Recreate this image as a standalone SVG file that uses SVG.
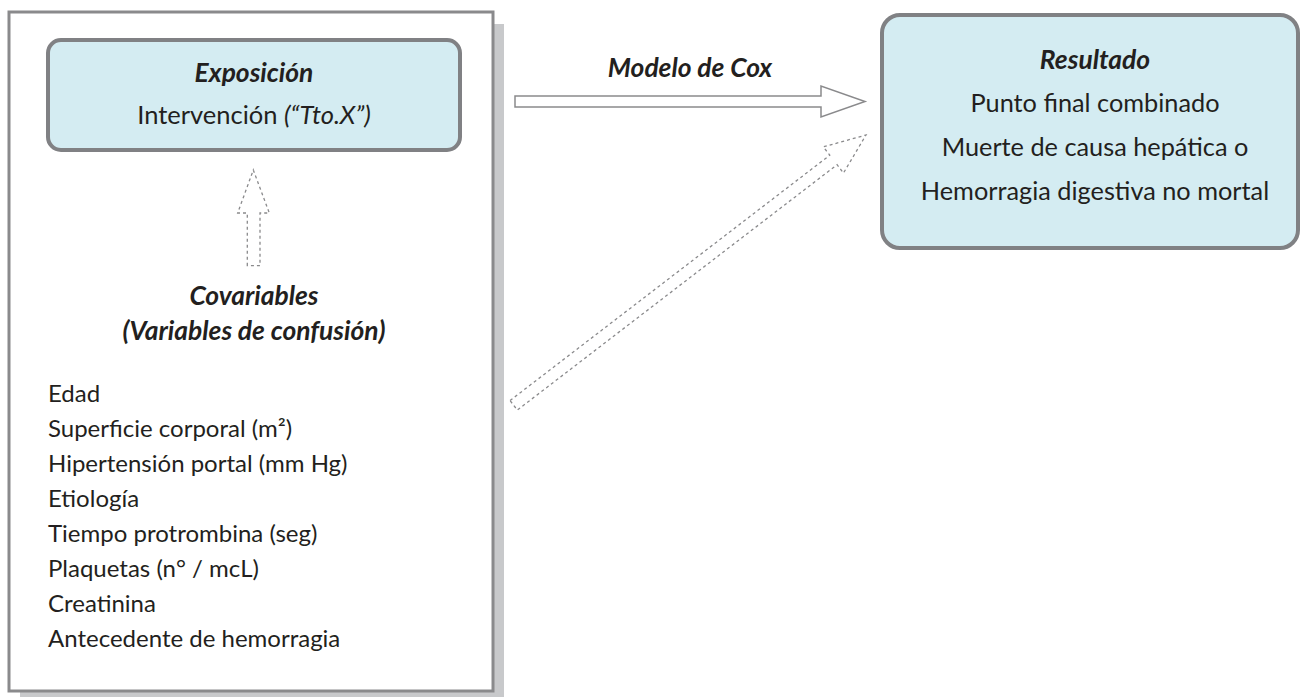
<svg xmlns="http://www.w3.org/2000/svg" width="1300" height="697" viewBox="0 0 1300 697">
<style>
text{font-family:Lato,"Liberation Sans",sans-serif;fill:#231f20;font-size:24px}
.c{text-anchor:middle}
.bi{font-weight:bold;font-style:italic;font-size:26.4px}
.it{font-style:italic}
.ex{font-size:25.5px}
.rs{font-size:25.3px}
.node{fill:#d4ecf2;stroke:#808184;stroke-width:4}
.solid{fill:#fff;stroke:#8a8a8c;stroke-width:1.5}
.dash{fill:#fff;stroke:#8a8a8c;stroke-width:1.3;stroke-dasharray:3 3}
</style>
<rect width="1300" height="697" fill="#fff"/>
<g id="covariables">
<rect x="20" y="24" width="484" height="679" fill="#c8c9cb"/>
<rect x="9" y="12" width="484" height="679" fill="#fff" stroke="#8a8a8c" stroke-width="3"/>
<text class="c bi" x="254" y="305">Covariables</text>
<text class="c bi" x="254" y="340">(Variables de confusión)</text>
<text x="48" y="402">Edad</text>
<text x="48" y="437">Superficie corporal (m²)</text>
<text x="48" y="472">Hipertensión portal (mm Hg)</text>
<text x="48" y="507">Etiología</text>
<text x="48" y="542">Tiempo protrombina (seg)</text>
<text x="48" y="577">Plaquetas (n° / mcL)</text>
<text x="48" y="612">Creatinina</text>
<text x="48" y="647">Antecedente de hemorragia</text>
</g>
<g id="exposicion">
<rect class="node" x="48" y="40" width="412" height="110" rx="13"/>
<text class="c bi" x="254" y="82">Exposición</text>
<text class="c ex" x="254" y="124">Intervención <tspan class="it">(“Tto.X”)</tspan></text>
</g>
<g id="resultado">
<rect class="node" x="882" y="15" width="416" height="233" rx="18"/>
<text class="c bi" x="1095" y="69">Resultado</text>
<text class="c rs" x="1095" y="112">Punto final combinado</text>
<text class="c rs" x="1095" y="156">Muerte de causa hepática o</text>
<text class="c rs" x="1095" y="200">Hemorragia digestiva no mortal</text>
</g>
<g id="connectors">
<text class="c bi" x="690" y="77">Modelo de Cox</text>
<path class="solid" d="M515,96 L821,96 L821,86 L865,101.5 L821,117 L821,107 L515,107 Z"/>
<path class="dash" d="M247.3,265.7 L247.3,213 L237.7,213 L253.3,170 L269.3,213 L260,213 L260,265.7 Z"/>
<path class="dash" transform="translate(513.7,405.3) rotate(-37.5)" d="M0,-6 L403,-6 L403,-16.5 L444,0 L403,16.5 L403,6 L0,6 Z"/>
</g>
</svg>
